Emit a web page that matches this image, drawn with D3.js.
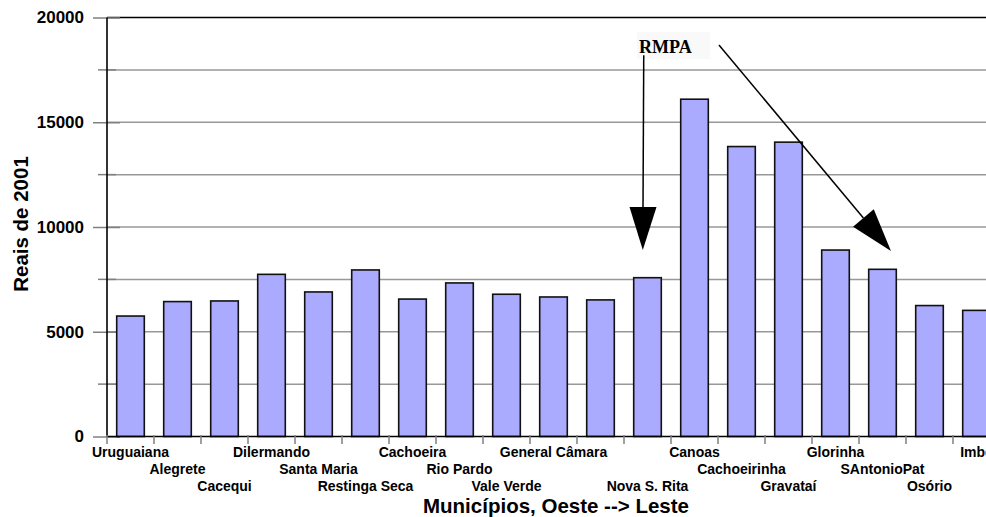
<!DOCTYPE html>
<html>
<head>
<meta charset="utf-8">
<script src="https://cdn.jsdelivr.net/npm/d3@7"></script>
<style>
  html, body { margin: 0; padding: 0; background: #ffffff; }
  svg { display: block; }
  text { font-family: "Liberation Sans", Arial, sans-serif; font-weight: bold; fill: #000; }
</style>
</head>
<body>
<svg id="chart" width="986" height="517"></svg>
<script>
// ---- data ----
const categories = ["Uruguaiana", "Alegrete", "Cacequi", "Dilermando", "Santa Maria",
  "Restinga Seca", "Cachoeira", "Rio Pardo", "Vale Verde", "General Câmara", "",
  "Nova S. Rita", "Canoas", "Cachoeirinha", "Gravataí", "Glorinha", "SAntonioPat",
  "Osório", "Imbé"];
const values = [5750, 6440, 6470, 7740, 6900, 7950, 6560, 7330, 6790, 6660, 6520,
  7580, 16100, 13840, 14050, 8900, 7980, 6250, 6020];
const yTickLabels = [0, 5000, 10000, 15000, 20000];
const yGridValues = [0, 2500, 5000, 7500, 10000, 12500, 15000, 17500, 20000];
const yTitle = "Reais de 2001";
const xTitle = "Municípios, Oeste --> Leste";
const annotationText = "RMPA";

// ---- layout ----
const W = 986, H = 517;
const x0 = 107, x1 = 1000, yTop = 17.5, yBot = 436.5;
const svg = d3.select("#chart");

const idx = categories.map((d, i) => i);
const x = d3.scaleBand().domain(idx).range([x0, x1]).paddingInner(0.413).paddingOuter(0.2065);
const y = d3.scaleLinear().domain([0, 20000]).range([yBot, yTop]);
const step = x.step();
const bandStart = i => x(i) - (step - x.bandwidth()) / 2;
const xf = f => x0 + f * step;  // fractional band position for annotations

// gridlines
svg.append("g").selectAll("line").data(yGridValues.filter(v => v > 0)).join("line")
  .attr("x1", x0).attr("x2", W)
  .attr("y1", d => y(d)).attr("y2", d => y(d))
  .attr("stroke", d => d === 20000 ? "#000" : "#989898")
  .attr("stroke-width", 1.5);

// y axis with labels
const yAxis = d3.axisLeft(y).tickValues(yTickLabels).tickFormat(d3.format("d"))
  .tickSize(14).tickPadding(9).tickSizeOuter(0);
const gy = svg.append("g").attr("transform", `translate(${x0},0)`).call(yAxis);
gy.select(".domain").remove();
gy.selectAll(".tick line").attr("x2", 13).attr("x1", -14).attr("stroke", "#808080").attr("stroke-width", 1.5);
gy.selectAll(".tick text").style("font-size", "17px").style("font-family", "'Liberation Sans', Arial, sans-serif").style("font-weight", "bold");

// minor ticks
svg.append("g").selectAll("line").data(yGridValues.filter(v => v % 5000 !== 0)).join("line")
  .attr("x1", x0 - 9).attr("x2", x0 + 9)
  .attr("y1", d => y(d)).attr("y2", d => y(d))
  .attr("stroke", "#808080").attr("stroke-width", 1.5);

// bars
svg.append("g").selectAll("rect").data(values).join("rect")
  .attr("x", (d, i) => x(i))
  .attr("width", x.bandwidth())
  .attr("y", d => y(d))
  .attr("height", d => y(0) - y(d))
  .attr("fill", "#aaaaff")
  .attr("stroke", "#111")
  .attr("stroke-width", 1.6);

// axis lines
svg.append("line").attr("x1", x0).attr("x2", x0).attr("y1", yTop).attr("y2", yBot)
  .attr("stroke", "#000").attr("stroke-width", 1.6);
svg.append("line").attr("x1", x0).attr("x2", W).attr("y1", yBot).attr("y2", yBot)
  .attr("stroke", "#000").attr("stroke-width", 1.6);

// x category boundary ticks
svg.append("g").selectAll("line").data(idx).join("line")
  .attr("x1", d => bandStart(d)).attr("x2", d => bandStart(d))
  .attr("y1", yBot - 1.5).attr("y2", yBot + 7.5)
  .attr("stroke", "#808080").attr("stroke-width", 1.5);

// x labels (staggered in three rows)
svg.append("g").selectAll("text").data(categories).join("text")
  .attr("x", (d, i) => x(i) + x.bandwidth() / 2)
  .attr("y", (d, i) => 457.3 + 17 * (i % 3))
  .attr("text-anchor", "middle")
  .style("font-size", "14px")
  .text(d => d);

// axis titles
svg.append("text")
  .attr("transform", `translate(27.5,224) rotate(-90)`)
  .attr("text-anchor", "middle")
  .style("font-size", "20.5px")
  .text(yTitle);
svg.append("text")
  .attr("x", 556).attr("y", 513.3)
  .attr("text-anchor", "middle")
  .style("font-size", "20.5px")
  .text(xTitle);

// annotation: RMPA with arrows
svg.append("rect").attr("x", 637).attr("y", 32).attr("width", 73).attr("height", 27)
  .attr("fill", "#f9f9f9");
svg.append("text").attr("x", 639).attr("y", 53)
  .style("font-family", "'Liberation Serif', 'Times New Roman', serif")
  .style("font-size", "18px").style("font-weight", "bold")
  .text(annotationText);

function arrow(xa, ya, xb, yb) {
  const dx = xb - xa, dy = yb - ya, len = Math.hypot(dx, dy);
  const ux = dx / len, uy = dy / len, hl = 43, hw = 13.5;
  const bx = xb - ux * hl, by = yb - uy * hl;
  svg.append("line").attr("x1", xa).attr("y1", ya).attr("x2", bx).attr("y2", by)
    .attr("stroke", "#000").attr("stroke-width", 1.5);
  svg.append("polygon")
    .attr("points", [[xb, yb], [bx - uy * hw, by + ux * hw], [bx + uy * hw, by - ux * hw]].map(p => p.join(",")).join(" "))
    .attr("fill", "#000");
}
arrow(xf(11.42), y(18200), xf(11.40), y(8900));
arrow(xf(13.02), y(18690), xf(16.68), y(8855));
</script>
</body>
</html>
